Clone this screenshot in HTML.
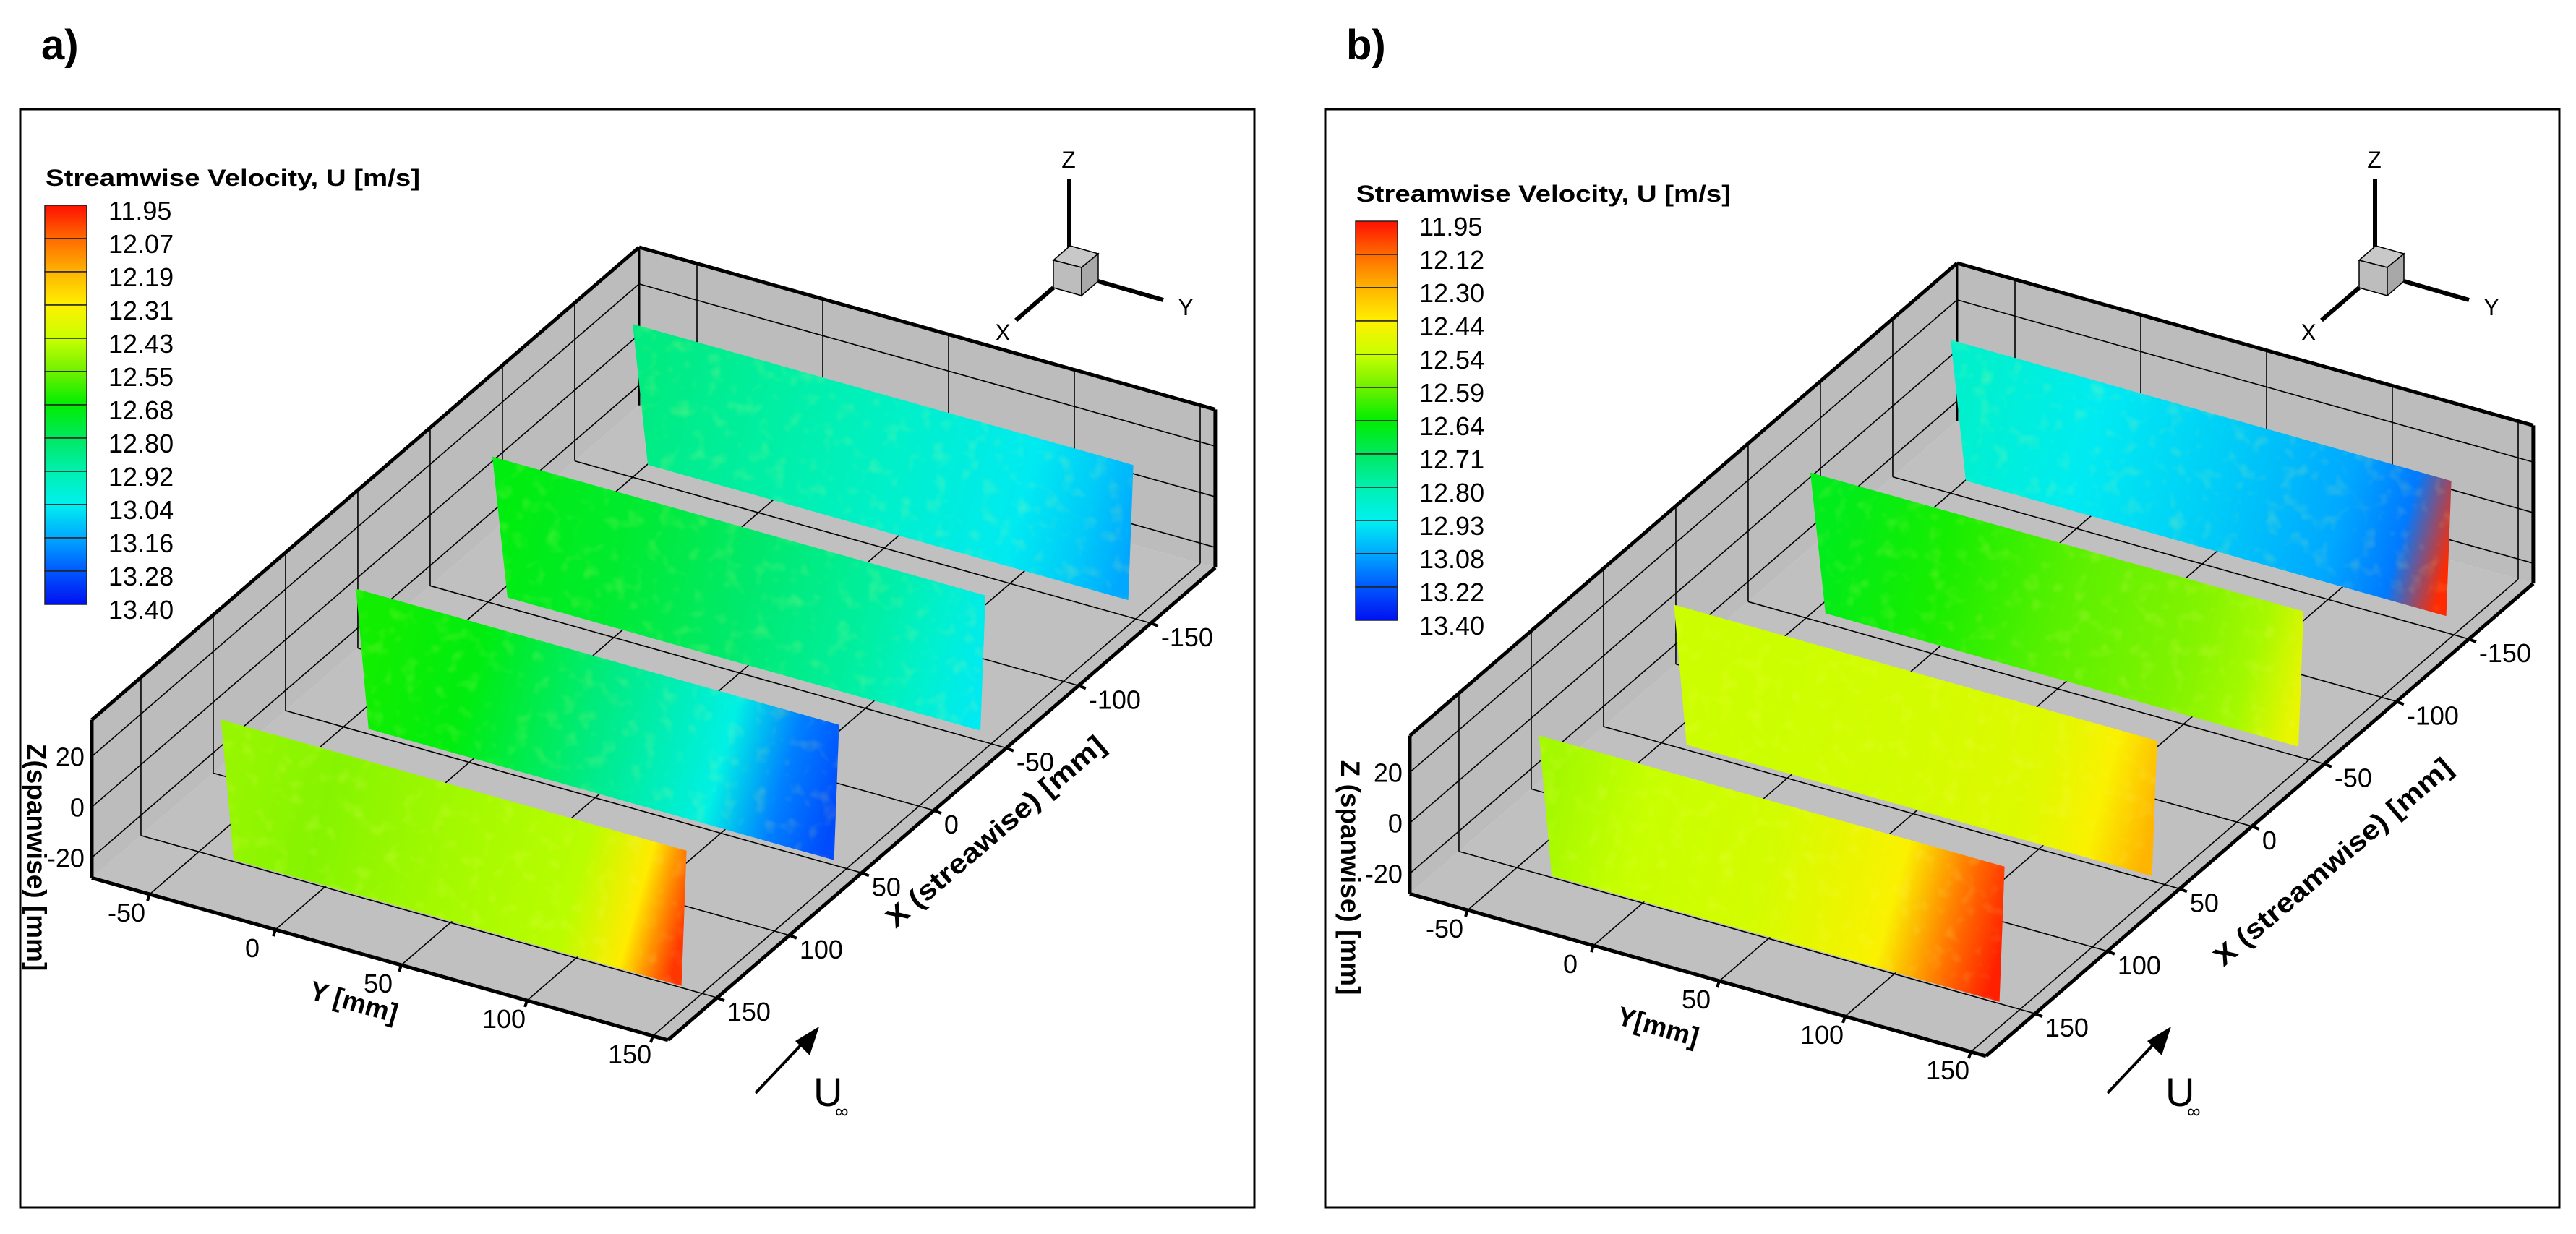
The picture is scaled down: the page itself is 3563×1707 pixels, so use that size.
<!DOCTYPE html>
<html><head><meta charset="utf-8"><style>
html,body{margin:0;padding:0;background:#fff}
svg{display:block}
text{font-family:"Liberation Sans",Arial,sans-serif}
</style></head><body>
<svg id="root" xmlns="http://www.w3.org/2000/svg" width="3563" height="1707" viewBox="0 0 3563 1707">
<defs id="defs">
<filter id="mottle" x="0" y="0" width="1" height="1">
<feTurbulence type="fractalNoise" baseFrequency="0.045" numOctaves="2" seed="3" result="n"/>
<feColorMatrix in="n" type="matrix" values="0 0 0 0 1  0 0 0 0 1  0 0 0 0 0.2  1.6 0 0 0 -0.85" result="spots"/>
<feComposite in="spots" in2="SourceGraphic" operator="in"/>
</filter>
</defs>
<rect x="0" y="0" width="3563" height="1707" fill="#fff"/>
</svg>
<script>
// ---- data ----
const levelsA = [11.95,12.07,12.19,12.31,12.43,12.55,12.68,12.80,12.92,13.04,13.16,13.28,13.40];
const levelsB = [11.95,12.12,12.30,12.44,12.54,12.59,12.64,12.71,12.80,12.93,13.08,13.22,13.40];
const levelColors = ['#ff1000','#ff6a00','#ffb400','#fff000','#c8ff00','#70f000','#00ee00','#00e860','#00f0b0','#00f0f0','#00a8ff','#0058ff','#0010f0'];
const xTicks = [-150,-100,-50,0,50,100,150];
const yTicks = [-50,0,50,100,150];
const zTicks = [-20,0,20];
const sliceX = [152,50,-53,-157];
const sliceYStartTop = [-40,-45,-50,-54];
const sliceYStartBot = [-35,-40,-44,-48];
const sliceYEnd = [145,147,146,145];
const stationY = [-50,0,50,100,125,150];
const velA1 = [12.50,12.52,12.48,12.45,12.30,12.00];
const velA2 = [12.66,12.70,12.85,13.02,13.22,13.30];
const velA3 = [12.70,12.74,12.82,12.90,12.98,13.05];
const velA4 = [12.85,12.90,12.97,13.05,13.10,13.16];
const velB1 = [12.56,12.54,12.52,12.45,12.15,11.98];
const velB2 = [12.53,12.53,12.52,12.50,12.45,12.30];
const velB3 = [12.66,12.63,12.60,12.58,12.56,12.48];
const velB4 = [12.86,12.94,13.00,13.08,13.16,12.00];

const NS='http://www.w3.org/2000/svg';
const root=document.getElementById('root');
const defs=document.getElementById('defs');
function mk(tag,attrs,parent){const e=document.createElementNS(NS,tag);for(const k in attrs)e.setAttribute(k,attrs[k]);(parent||root).appendChild(e);return e;}
function hex(c){return [parseInt(c.slice(1,3),16),parseInt(c.slice(3,5),16),parseInt(c.slice(5,7),16)];}
function colorFor(v,levels){
  if(v<=levels[0])return levelColors[0];
  for(let i=0;i<levels.length-1;i++){
    if(v<=levels[i+1]){const t=(v-levels[i])/(levels[i+1]-levels[i]);const a=hex(levelColors[i]),b=hex(levelColors[i+1]);
      return 'rgb('+a.map((q,j)=>Math.round(q+(b[j]-q)*t)).join(',')+')';}
  }
  return levelColors[levelColors.length-1];
}
const Xmin=-194.5,Xmax=184,Ymin=-73,Ymax=156,Zmin=-28,Zmax=34.5;

function panel(cfg){
  const g=mk('g',{});
  const ox=cfg.ox, oy=cfg.oy;
  const P=(X,Y,Z)=>[ox-2.0*X+3.48*Y, oy+1.727*X+0.98*Y-3.5*Z];
  const pts=a=>a.map(p=>p[0].toFixed(1)+','+p[1].toFixed(1)).join(' ');
  const fr=mk('rect',{x:cfg.fx,y:151,width:cfg.fw,height:1519,fill:'none',stroke:'#000','stroke-width':3},g);
  
  const lab=mk('text',{x:cfg.fx+29,y:82,'font-size':58,'font-weight':'bold'},g);lab.textContent=cfg.letter;
  
  const fl=mk('polygon',{points:pts([P(Xmin,Ymin,Zmin),P(Xmin,Ymax,Zmin),P(Xmax,Ymax,Zmin),P(Xmax,Ymin,Zmin)]),fill:'#c0c0c0'},g);
  
  const lw=mk('polygon',{points:pts([P(Xmin,Ymin,Zmin),P(Xmin,Ymin,Zmax),P(Xmax,Ymin,Zmax),P(Xmax,Ymin,Zmin)]),fill:'#bcbcbc'},g);
  
  const bw=mk('polygon',{points:pts([P(Xmin,Ymin,Zmin),P(Xmin,Ymin,Zmax),P(Xmin,Ymax,Zmax),P(Xmin,Ymax,Zmin)]),fill:'#bcbcbc'},g);
  
  const line=(a,b,w,name)=>{const l=mk('line',{x1:a[0],y1:a[1],x2:b[0],y2:b[1],stroke:'#000','stroke-width':w},g);return l;};
  xTicks.forEach(x=>{line(P(x,Ymin,Zmin),P(x,Ymax,Zmin),1.6,'floor-grid-x');line(P(x,Ymin,Zmin),P(x,Ymin,Zmax),1.6,'wall-grid-x');
    const a=P(x,Ymax,Zmin);line(a,[a[0]+10,a[1]+4],4,'x-tick');});
  yTicks.forEach(y=>{line(P(Xmin,y,Zmin),P(Xmax,y,Zmin),1.6,'floor-grid-y');line(P(Xmin,y,Zmin),P(Xmin,y,Zmax),1.6,'wall-grid-y');
    const a=P(Xmax,y,Zmin);line(a,[a[0]-3,a[1]+9],4,'y-tick');});
  zTicks.forEach(z=>{line(P(Xmin,Ymin,z),P(Xmax,Ymin,z),1.6,'wall-grid-z-left');line(P(Xmin,Ymin,z),P(Xmin,Ymax,z),1.6,'wall-grid-z-back');});
  line(P(Xmin,Ymin,Zmax),P(Xmax,Ymin,Zmax),5,'edge');
  line(P(Xmax,Ymin,Zmin),P(Xmax,Ymin,Zmax),5,'edge');
  line(P(Xmin,Ymin,Zmax),P(Xmin,Ymax,Zmax),5,'edge');
  line(P(Xmin,Ymax,Zmin),P(Xmin,Ymax,Zmax),5,'edge');
  line(P(Xmin,Ymin,Zmin),P(Xmin,Ymin,Zmax),3,'edge');
  line(P(Xmax,Ymin,Zmin),P(Xmax,Ymax,Zmin),5,'edge');
  line(P(Xmin,Ymax,Zmin),P(Xmax,Ymax,Zmin),5,'edge');
  const txt=(x,y,s,attrs,name)=>{const t=mk('text',Object.assign({x:x,y:y,'font-size':36},attrs||{}),g);t.textContent=s;return t;};
  yTicks.forEach(y=>{const a=P(Xmax,y,Zmin);txt(a[0]-32,a[1]+38,String(y),{'text-anchor':'middle'},'y-tick-label');});
  xTicks.forEach(x=>{const a=P(x,Ymax,Zmin);txt(a[0]+14,a[1]+32,String(x),{},'x-tick-label');});
  zTicks.forEach(z=>{const a=P(Xmax,Ymin,z);txt(a[0]-10,a[1]+13,String(z),{'text-anchor':'end'},'z-tick-label');});
  for(let i=sliceX.length-1;i>=0;i--){
    const X=sliceX[i], vals=cfg.vel[i];
    const y0=sliceYStartTop[i], y0b=sliceYStartBot[i], y1=sliceYEnd[i];
    const gid=cfg.name+'-grad-'+i;
    const a=P(X,y0b,0), b=P(X,y1,0);
    const lg=mk('linearGradient',{id:gid,gradientUnits:'userSpaceOnUse',x1:a[0],y1:a[1],x2:b[0],y2:b[1]},defs);
    stationY.forEach((sy,k)=>{let off=(sy-y0b)/(y1-y0b);off=Math.max(0,Math.min(1,off));mk('stop',{offset:off,'stop-color':colorFor(vals[k],cfg.levels)},lg);});
    const poly=pts([P(X,y0,28),P(X,y1,28),P(X,y1-2,-26),P(X,y0b,-26)]);
    const pg=mk('polygon',{points:poly,fill:'url(#'+gid+')'},g);
    
    const mo=mk('polygon',{points:poly,fill:'#888','fill-opacity':0.9,filter:'url(#mottle)',opacity:0.35},g);
    
  }
  txt(cfg.yTitle[0],cfg.yTitle[1],cfg.yTitleText,{'font-size':37,'font-weight':'bold','text-anchor':'middle','transform':'rotate(15.7 '+cfg.yTitle[0]+' '+cfg.yTitle[1]+')'},'y-axis-title');
  txt(cfg.xTitle[0],cfg.xTitle[1],cfg.xTitleText,{'font-size':38,'font-weight':'bold','text-anchor':'middle','textLength':cfg.xLen,'lengthAdjust':'spacingAndGlyphs','transform':'rotate(-40.5 '+cfg.xTitle[0]+' '+cfg.xTitle[1]+')'},'x-axis-title');
  txt(cfg.zTitle[0],cfg.zTitle[1],cfg.zTitleText,{'font-size':37,'font-weight':'bold','text-anchor':'middle','transform':'rotate(90 '+cfg.zTitle[0]+' '+cfg.zTitle[1]+')'},'z-axis-title');
  const lx=cfg.lx, ly=cfg.ly, bh=46;
  txt(lx+1,ly-27,'Streamwise Velocity, U [m/s]',{'font-size':32,'font-weight':'bold','textLength':518,'lengthAdjust':'spacingAndGlyphs'},'legend-title');
  for(let k=0;k<12;k++){
    const gid=cfg.name+'-cb-'+k;
    const lg=mk('linearGradient',{id:gid,x1:0,y1:0,x2:0,y2:1},defs);
    mk('stop',{offset:0,'stop-color':levelColors[k]},lg);mk('stop',{offset:1,'stop-color':levelColors[k+1]},lg);
    const r=mk('rect',{x:lx,y:ly+k*bh,width:58,height:bh,fill:'url(#'+gid+')',stroke:'#222','stroke-width':1.5},g);
    
  }
  cfg.levels.forEach((v,k)=>{txt(lx+88,ly+k*bh+20,v.toFixed(2),{'font-size':36},'colorbar-label');});
  const tx=cfg.tx, ty=cfg.ty;
  const T=(x,y)=>[tx+x,ty+y];
  line(T(1479,247),T(1479,342),6,'triad-z-axis');
  line(T(1519,389),T(1609,415),6,'triad-y-axis');
  line(T(1457,398),T(1405,443),6,'triad-x-axis');
  const cube=[[[1457,360],[1480,340],[1519,351],[1496,370]],[[1457,360],[1496,370],[1496,409],[1457,398]],[[1496,370],[1519,351],[1519,389],[1496,409]]];
  const cc=['#c8c8c8','#bdbdbd','#a8a8a8'];
  cube.forEach((f,k)=>{const p=mk('polygon',{points:pts(f.map(q=>T(q[0],q[1]))),fill:cc[k],stroke:'#000','stroke-width':1.5},g);});
  txt(tx+1478,ty+232,'Z',{'font-size':32,'text-anchor':'middle'},'triad-z-label');
  txt(tx+1640,ty+436,'Y',{'font-size':32,'text-anchor':'middle'},'triad-y-label');
  txt(tx+1387,ty+471,'X',{'font-size':32,'text-anchor':'middle'},'triad-x-label');
  const ax=cfg.ax, ay=cfg.ay;
  line([ax,ay],[ax+70,ay-74],4,'freestream-arrow-shaft');
  const ah=mk('polygon',{points:pts([[ax+88,ay-92],[ax+55,ay-72],[ax+75,ay-52]]),fill:'#000'},g);
  
  txt(ax+80,ay+18,'U',{'font-size':56},'freestream-label');
  txt(ax+110,ay+34,'∞',{'font-size':26},'freestream-subscript');
}
panel({name:'panel-a',letter:'a)',fx:28,fw:1707,ox:749,oy:870.2,vel:[velA1,velA2,velA3,velA4],levels:levelsA,
  yTitle:[486,1398],yTitleText:'Y [mm]',xTitle:[1385,1160],xTitleText:'X (streawise) [mm]',xLen:385,zTitle:[38,1186],zTitleText:'Z(spanwise) [mm]',
  lx:62,ly:284,tx:0,ty:0,ax:1045,ay:1512});
panel({name:'panel-b',letter:'b)',fx:1833,fw:1707,ox:749+1823,oy:870.2+22,vel:[velB1,velB2,velB3,velB4],levels:levelsB,
  yTitle:[2290,1432],yTitleText:'Y[mm]',xTitle:[3235,1202],xTitleText:'X (streamwise) [mm]',xLen:420,zTitle:[1855,1214],zTitleText:'Z (spanwise) [mm]',
  lx:1875,ly:306,tx:1806,ty:0,ax:2915,ay:1512});
</script>
</body></html>
